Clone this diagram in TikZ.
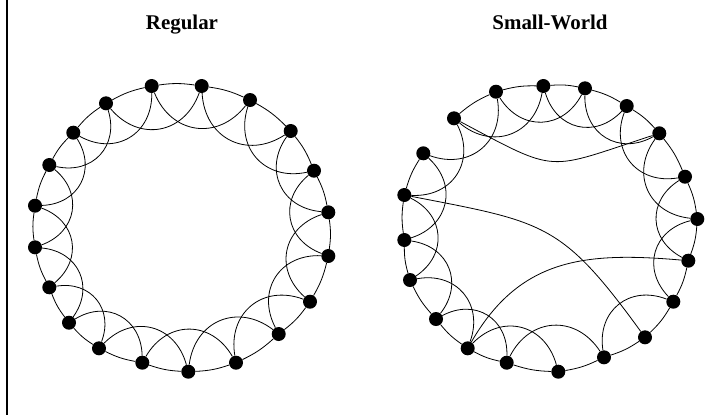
\documentclass[tikz,border=0pt]{standalone}
\usepackage{fontspec}
\setmainfont{Liberation Serif}

\begin{document}
\begin{tikzpicture}[x=1bp, y=1bp,
  dot/.style={circle, fill=black, inner sep=0pt, minimum size=14bp},
  edge/.style={line width=0.8bp},
  ring/.style={edge, bend left=8},
  hop/.style={edge, bend right=60, looseness=1.25},
  title/.style={font=\bfseries\fontsize{21}{24}\selectfont, anchor=base},
]
\useasboundingbox (0,-415) rectangle (720,0);

% frame line
\draw[line width=1.8bp] (6.7,0) -- (6.7,-415);

% ====== Regular ======
\node[title] (tregular) at (182,-29.5) {Regular};
\foreach \n/\x/\y in {1/151.7/86, 2/201.7/86, 3/250/100, 4/290.7/131,
    5/314/170.7, 6/328.3/212.3, 7/328.3/256, 8/310/301.7, 9/278.7/334,
    10/236/362.7, 11/188.3/371.7, 12/142.3/362.7, 13/99/348.3,
    14/69/322.7, 15/49.3/287.3, 16/35/247.3, 17/35/205.7, 18/49.3/165,
    19/73.3/132.7, 20/106/103.3}
  \node[dot] (r\n) at (\x,-\y) {};
\foreach \i in {1,...,20} {
  \pgfmathtruncatemacro{\j}{mod(\i,20)+1}
  \pgfmathtruncatemacro{\k}{mod(\i+1,20)+1}
  \draw[ring] (r\i) to (r\j);
  \draw[hop] (r\i) to (r\k);
}

% ====== Small-World ======
\node[title] (tsmall) at (550,-29.5) {Small-World};
\foreach \n/\x/\y in {1/496/91.7, 2/543.3/86, 3/585/88.3, 4/626.7/106,
    5/659.3/133.3, 6/685/176.7, 7/697.3/219, 8/688.3/260.7, 9/673.3/301.7,
    10/645/337.3, 11/604/357.3, 12/558.3/371.7, 13/506.7/362.7,
    14/467.7/348.3, 15/436/319, 16/410/280, 17/404.3/240, 18/404.3/195,
    19/423.3/153.3, 20/454/118.3}
  \node[dot] (s\n) at (\x,-\y) {};
\foreach \a/\b in {1/2, 2/3, 3/4, 4/5, 5/6, 6/7, 7/8, 8/9, 9/10, 10/11,
    11/12, 12/13, 13/14, 14/15, 15/16, 16/17, 17/18, 18/19, 20/1}
  \draw[ring] (s\a) to (s\b);
\foreach \a/\b in {1/3, 2/4, 3/5, 4/6, 5/7, 6/8, 7/9, 9/11, 11/13, 12/14,
    13/15, 14/16, 15/17, 16/18, 17/19, 18/20, 19/1, 20/2}
  \draw[hop] (s\a) to (s\b);

% rewired shortcuts
\draw[edge] (s20) to[out=-28, in=198, looseness=1.5] (s5);
\draw[edge] (s18) to[out=-11, in=126, looseness=1.3] (s10);
\draw[edge] (s14) to[out=60, in=175, looseness=1.1] (s8);

\end{tikzpicture}
\end{document}
